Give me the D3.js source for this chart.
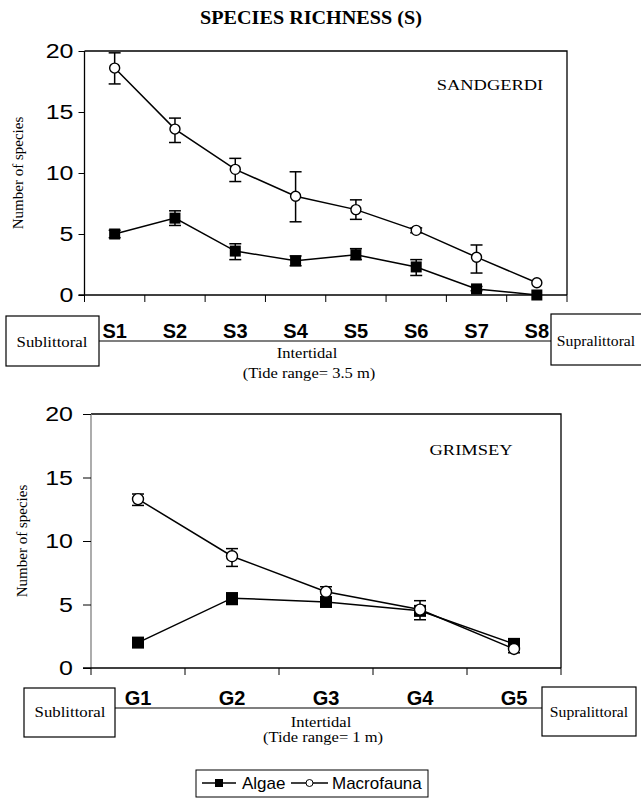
<!DOCTYPE html>
<html><head><meta charset="utf-8">
<script src="https://cdn.jsdelivr.net/npm/d3@7"></script>
<style>body{margin:0;background:#fff}svg{display:block}</style>
</head><body>
<svg id="c" width="641" height="799"></svg>
<script>
// ---- data ----
const sitesS = ["S1","S2","S3","S4","S5","S6","S7","S8"];
const algaeS = [5.0, 6.3, 3.6, 2.8, 3.3, 2.3, 0.5, 0.0];
const algaeSLo = [4.7, 5.7, 2.9, 2.4, 2.9, 1.6, 0.35, 0.0];
const algaeSHi = [5.3, 6.9, 4.2, 3.2, 3.8, 2.9, 0.7, 0.0];
const macroS = [18.6, 13.6, 10.3, 8.1, 7.0, 5.3, 3.1, 1.0];
const macroSLo = [17.3, 12.5, 9.3, 6.0, 6.2, 5.1, 1.8, 1.0];
const macroSHi = [19.85, 14.5, 11.2, 10.1, 7.8, 5.5, 4.1, 1.0];

const sitesG = ["G1","G2","G3","G4","G5"];
const algaeG = [2.0, 5.5, 5.2, 4.5, 1.9];
const algaeGLo = [1.7, 5.0, 5.0, 4.2, 1.6];
const algaeGHi = [2.3, 5.9, 5.4, 4.8, 2.2];
const macroG = [13.3, 8.8, 6.0, 4.6, 1.5];
const macroGLo = [12.8, 8.0, 5.6, 3.8, 1.2];
const macroGHi = [13.7, 9.4, 6.4, 5.3, 1.9];

const yTicks = [0, 5, 10, 15, 20];
const seriesNames = ["Algae", "Macrofauna"];

const svg = d3.select("#c");
const times = "'Liberation Serif','Times New Roman',serif";
const arial = "'Liberation Sans',Arial,sans-serif";

// text helper with horizontal stretch (the original figure is stretched sideways)
function txt(g, x, y, s, o) {
  return g.append("text")
    .attr("transform", `translate(${x},${y}) scale(${o.sx || 1},${o.sy || 1})`)
    .attr("text-anchor", o.anchor || "middle")
    .style("font-family", o.font || times)
    .style("font-size", (o.size || 14) + "px")
    .style("font-weight", o.bold ? "bold" : "normal")
    .text(s);
}

txt(svg, 311, 24, "SPECIES RICHNESS (S)", {size: 18, sx: 1.12, bold: true});

function panel(o) {
  const g = svg.append("g");
  const x = d3.scaleBand().domain(o.sites).range([o.left, o.right]);
  const y = d3.scaleLinear().domain([0, 20]).range([o.bottom, o.top]);
  // frame top & right
  g.append("path").attr("d", `M${o.left},${o.top}H${o.right}V${o.bottom}`)
    .attr("fill","none").attr("stroke","#000").attr("stroke-width",1.3);
  // y axis
  const ya = g.append("g").attr("transform", `translate(${o.left},0)`)
    .call(d3.axisLeft(y).tickValues(yTicks).tickSize(o.tick).tickFormat(""));
  ya.select(".domain").attr("stroke", o.yAxisColor).attr("stroke-width",1.3)
    .attr("d", `M0,${o.top}V${o.bottom}`);
  ya.selectAll(".tick line").attr("stroke", "#000");
  yTicks.forEach(t => txt(g, o.left - o.tick - o.pad, y(t) + 7, String(t),
    {font: arial, size: 20, sx: 1.25, anchor: "end"}));
  // x axis
  g.append("line").attr("x1", o.left - o.tick).attr("x2", o.right)
    .attr("y1", o.bottom).attr("y2", o.bottom).attr("stroke","#000").attr("stroke-width",1.3);
  const edges = o.sites.map(s => x(s)).concat([o.right]);
  g.selectAll(".xt").data(edges).join("line")
    .attr("x1", d => d).attr("x2", d => d)
    .attr("y1", o.bottom).attr("y2", o.bottom + 7).attr("stroke","#000");
  // site labels
  o.sites.forEach(s => txt(g, x(s) + x.bandwidth()/2, o.labelY, s, {font: arial, size: 20, bold: true}));
  // y title
  g.append("text").attr("transform", `translate(${o.titleX},${(o.top+o.bottom)/2}) rotate(-90)`)
    .attr("text-anchor","middle").style("font-family", times).style("font-size","15px")
    .text("Number of species");
  // site name
  txt(g, o.nameX, o.nameY, o.name, {size: 15, sx: 1.23});

  const cx = d => x(d) + x.bandwidth()/2;
  const line = d3.line().x(d => cx(d.s)).y(d => y(d.v));
  const draw = (vals, lo, hi, type) => {
    const data = o.sites.map((s,i) => ({s, v: vals[i], lo: lo[i], hi: hi[i]}));
    g.append("path").datum(data).attr("d", line).attr("fill","none").attr("stroke","#000").attr("stroke-width",1.5);
    const eb = g.append("g").selectAll("g").data(data.filter(d => d.hi - d.lo > 0.05)).join("g");
    eb.append("line").attr("x1", d=>cx(d.s)).attr("x2", d=>cx(d.s)).attr("y1", d=>y(d.lo)).attr("y2", d=>y(d.hi)).attr("stroke","#000").attr("stroke-width",1.5);
    eb.append("line").attr("x1", d=>cx(d.s)-6).attr("x2", d=>cx(d.s)+6).attr("y1", d=>y(d.lo)).attr("y2", d=>y(d.lo)).attr("stroke","#000").attr("stroke-width",1.5);
    eb.append("line").attr("x1", d=>cx(d.s)-6).attr("x2", d=>cx(d.s)+6).attr("y1", d=>y(d.hi)).attr("y2", d=>y(d.hi)).attr("stroke","#000").attr("stroke-width",1.5);
    if (type === "sq") {
      g.selectAll(null).data(data).join("rect")
        .attr("x", d => cx(d.s) - o.sq/2).attr("y", d => y(d.v) - o.sq/2)
        .attr("width", o.sq).attr("height", o.sq).attr("fill","#000");
    } else {
      g.selectAll(null).data(data).join("circle")
        .attr("cx", d => cx(d.s)).attr("cy", d => y(d.v)).attr("r", o.r)
        .attr("fill","#fff").attr("stroke","#000").attr("stroke-width",1.4);
    }
  };
  draw(o.algae, o.algaeLo, o.algaeHi, "sq");
  draw(o.macro, o.macroLo, o.macroHi, "ci");

  // zone boxes & line
  g.append("line").attr("x1", o.subBox[0]+o.subBox[2]).attr("x2", o.supBox[0])
    .attr("y1", o.lineY).attr("y2", o.lineY).attr("stroke","#000").attr("stroke-width",1.2);
  [[o.subBox,"Sublittoral", 1.2],[o.supBox,"Supralittoral", 1.12]].forEach(([b,t,sx]) => {
    g.append("rect").attr("x", b[0]).attr("y", b[1]).attr("width", b[2]).attr("height", b[3])
      .attr("fill","#fff").attr("stroke","#000").attr("stroke-width",1.2);
  });
  txt(g, o.subText[0], o.subText[1], "Sublittoral", {size: 14, sx: 1.2});
  txt(g, o.supText[0], o.supText[1], "Supralittoral", {size: 14, sx: 1.12});
  txt(g, o.midX, o.midY, "Intertidal", {size: 14, sx: 1.18});
  txt(g, o.midX + 2, o.midY + 20 * o.gap, o.tide, {size: 14, sx: 1.18});
}

panel({sites: sitesS, algae: algaeS, algaeLo: algaeSLo, algaeHi: algaeSHi,
  macro: macroS, macroLo: macroSLo, macroHi: macroSHi,
  left: 84.5, right: 567, top: 51, bottom: 295, yAxisColor: "#000", tick: 6, pad: 5,
  labelY: 338, titleX: 23, name: "SANDGERDI", nameX: 490, nameY: 90,
  sq: 11, r: 5, lineY: 341, subBox: [6, 316, 93, 50], supBox: [551, 314, 95, 51],
  subText: [52, 347], supText: [596, 346],
  midX: 307, midY: 358, gap: 1, tide: "(Tide range= 3.5 m)"});

panel({sites: sitesG, algae: algaeG, algaeLo: algaeGLo, algaeHi: algaeGHi,
  macro: macroG, macroLo: macroGLo, macroHi: macroGHi,
  left: 91, right: 561, top: 414, bottom: 668, yAxisColor: "#808080", tick: 8, pad: 10,
  labelY: 705, titleX: 27, name: "GRIMSEY", nameX: 471, nameY: 455,
  sq: 12, r: 5.5, lineY: 708, subBox: [24, 688, 91, 49], supBox: [542, 687, 94, 49],
  subText: [70, 717], supText: [589, 717],
  midX: 321, midY: 727, gap: 0.75, tide: "(Tide range= 1 m)"});

// legend
const lg = svg.append("g");
lg.append("rect").attr("x", 196).attr("y", 770).attr("width", 232).attr("height", 27)
  .attr("fill","#fff").attr("stroke","#000").attr("stroke-width",1);
const items = [{n: seriesNames[0], x1: 202, x2: 236, t: "sq", tx: 242},
               {n: seriesNames[1], x1: 291, x2: 328, t: "ci", tx: 332}];
items.forEach(it => {
  const mx = (it.x1 + it.x2) / 2;
  lg.append("line").attr("x1", it.x1).attr("x2", it.x2).attr("y1", 783).attr("y2", 783).attr("stroke","#000").attr("stroke-width",1.3);
  if (it.t === "sq") lg.append("rect").attr("x", mx - 4).attr("y", 779).attr("width", 8).attr("height", 8).attr("fill","#000");
  else lg.append("circle").attr("cx", mx).attr("cy", 783).attr("r", 3.5).attr("fill","#fff").attr("stroke","#000");
  txt(lg, it.tx, 789, it.n, {font: arial, size: 17, anchor: "start"});
});
</script>
</body></html>
